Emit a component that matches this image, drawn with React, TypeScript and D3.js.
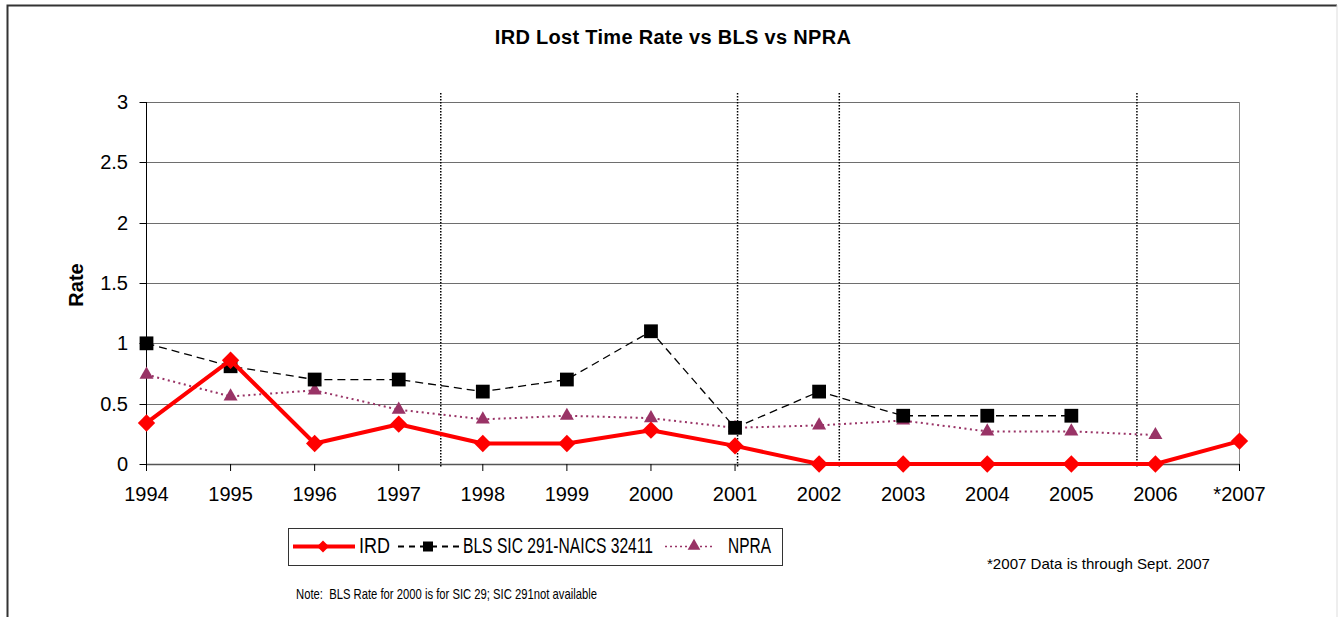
import React from 'react';
import * as d3 from 'd3';

// categories and series
const years = ['1994', '1995', '1996', '1997', '1998', '1999', '2000', '2001', '2002', '2003', '2004', '2005', '2006', '*2007'];
const ird = [0.34, 0.86, 0.17, 0.33, 0.17, 0.17, 0.28, 0.15, 0, 0, 0, 0, 0, 0.19];
const bls = [1.0, 0.81, 0.7, 0.7, 0.6, 0.7, 1.1, 0.3, 0.6, 0.4, 0.4, 0.4, null, null];
const npra = [0.74, 0.56, 0.61, 0.45, 0.37, 0.4, 0.38, 0.3, 0.32, 0.36, 0.27, 0.27, 0.24, null];
const yTicks = [0, 0.5, 1, 1.5, 2, 2.5, 3];
// vertical dotted marker lines, in category-index units
const markerLines = [3.5, 7.03, 8.24, 11.78];

const W = 1338;
const H = 617;
const font = 'Arial, "Liberation Sans", sans-serif';

const App = () => {
  // plot area
  const left = 146.5;
  const right = 1239.5;
  const top = 102;
  const bottom = 464;

  const x = d3.scaleLinear().domain([0, years.length - 1]).range([left, right]);
  const y = d3.scaleLinear().domain([0, 3]).range([bottom, top]);

  const line = d3.line<number | null>()
    .defined(d => d !== null)
    .x((d, i) => x(i))
    .y(d => y(d as number));

  const diamond = d3.symbol(d3.symbolSquare, 150)();
  const square = d3.symbol(d3.symbolSquare, 190)();
  const triangle = d3.symbol(d3.symbolTriangle, 85)();

  const purple = '#993366';

  // legend text is drawn narrow and tall, like the reference
  const legendText = (tx: number, label: string, len: number) => (
    <text transform={`translate(${tx},553) scale(1,1.4)`} fontSize={16} textLength={len} lengthAdjust="spacingAndGlyphs">{label}</text>
  );

  return (
    <svg width={W} height={H} style={{ position: 'absolute', left: 0, top: 0, fontFamily: font }}>
      <rect x={0} y={0} width={W} height={H} fill="#fff" />
      {/* outer frame */}
      <path d={`M7.5,${H + 5}V5.5H1337`} fill="none" stroke="#333" strokeWidth={2} />
      <line x1={1337} x2={1337} y1={5} y2={H} stroke="#ddd" strokeWidth={1} />

      <text x={673} y={44} textAnchor="middle" fontSize={20} fontWeight="bold" letterSpacing={0.3}>
        IRD Lost Time Rate vs BLS vs NPRA
      </text>

      {/* gridlines */}
      {yTicks.filter(t => t > 0).map(t => (
        <line key={t} x1={left} x2={right} y1={Math.round(y(t)) + 0.5} y2={Math.round(y(t)) + 0.5} stroke="#6e6e6e" strokeWidth={1} />
      ))}
      <line x1={right} x2={right} y1={top} y2={bottom + 7} stroke="#8a8a8a" strokeWidth={1} />

      {/* y axis */}
      <line x1={left} x2={left} y1={top} y2={bottom} stroke="#000" strokeWidth={1} />
      {yTicks.map(t => (
        <g key={t}>
          <line x1={left - 7} x2={left} y1={Math.round(y(t)) + 0.5} y2={Math.round(y(t)) + 0.5} stroke="#000" />
          <text x={128} y={y(t)} dy="0.35em" textAnchor="end" fontSize={20}>{t}</text>
        </g>
      ))}
      <text transform={`translate(83,285) rotate(-90)`} textAnchor="middle" fontSize={20} fontWeight="bold">Rate</text>

      {/* x axis */}
      <line x1={left} x2={right} y1={bottom + 0.5} y2={bottom + 0.5} stroke="#555" strokeWidth={1.5} />
      {years.map((yr, i) => (
        <g key={yr}>
          <line x1={x(i)} x2={x(i)} y1={bottom} y2={bottom + 7} stroke="#000" />
          <text x={x(i)} y={501} textAnchor="middle" fontSize={20}>{yr}</text>
        </g>
      ))}

      {/* dotted marker lines */}
      {markerLines.map(m => (
        <line key={m} x1={x(m)} x2={x(m)} y1={93} y2={468} stroke="#000" strokeWidth={1.5} strokeDasharray="1.5,1.5" />
      ))}

      {/* NPRA */}
      <path d={line(npra) || ''} fill="none" stroke={purple} strokeWidth={2} strokeDasharray="2,3.5" />
      {npra.map((v, i) => v === null ? null : (
        <path key={i} d={triangle || ''} transform={`translate(${x(i)},${y(v)})`} fill={purple} />
      ))}

      {/* BLS */}
      <path d={line(bls) || ''} fill="none" stroke="#000" strokeWidth={1.3} strokeDasharray="8,5" />
      {bls.map((v, i) => v === null ? null : (
        <path key={i} d={square || ''} transform={`translate(${x(i)},${y(v)})`} fill="#000" />
      ))}

      {/* IRD */}
      <path d={line(ird) || ''} fill="none" stroke="#ff0000" strokeWidth={4} strokeLinejoin="round" />
      {ird.map((v, i) => (
        <path key={i} d={diamond || ''} transform={`translate(${x(i)},${y(v)}) rotate(45)`} fill="#ff0000" />
      ))}

      {/* legend */}
      <rect x={288.5} y={528.5} width={494} height={37} fill="#fff" stroke="#333" strokeWidth={1} />
      <line x1={293} x2={355} y1={546.5} y2={546.5} stroke="#ff0000" strokeWidth={4} />
      <path d={d3.symbol(d3.symbolSquare, 72)() || ''} transform="translate(323,546.5) rotate(45)" fill="#ff0000" />
      {legendText(359, 'IRD', 31)}

      <line x1={398} x2={460} y1={546.5} y2={546.5} stroke="#000" strokeWidth={2} strokeDasharray="6,5" />
      <path d={d3.symbol(d3.symbolSquare, 100)() || ''} transform="translate(428,546.5)" fill="#000" />
      {legendText(463, 'BLS SIC 291-NAICS 32411', 190)}

      <line x1={665} x2={715} y1={546.5} y2={546.5} stroke={purple} strokeWidth={1.5} strokeDasharray="2,3" />
      <path d={d3.symbol(d3.symbolTriangle, 70)() || ''} transform="translate(694,546)" fill={purple} />
      {legendText(728, 'NPRA', 43)}

      {/* notes */}
      <text x={987} y={569} fontSize={15} textLength={223} lengthAdjust="spacingAndGlyphs">*2007 Data is through Sept. 2007</text>
      <text transform="translate(296,599) scale(1,1.3)" fontSize={11.5} textLength={301} lengthAdjust="spacingAndGlyphs" xmlSpace="preserve">Note:  BLS Rate for 2000 is for SIC 29; SIC 291not available</text>
    </svg>
  );
};

export default App;
